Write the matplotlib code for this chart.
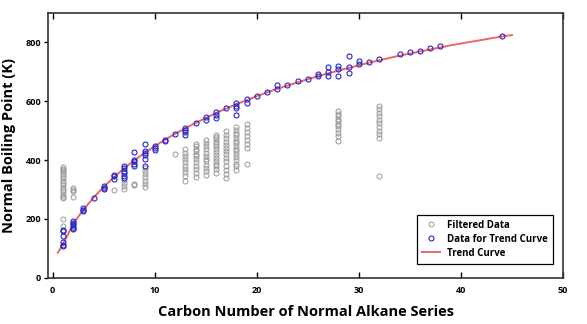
import matplotlib
matplotlib.use("Agg")
import matplotlib.pyplot as plt

plt.rcParams['font.family'] = ['Open Sans', 'DejaVu Sans']

# trend curve
curve_x = [0.5, 1, 2, 3, 4, 5, 6, 7, 8, 9, 10, 11, 12, 13, 14, 15, 16, 17, 18, 19, 20,
           21, 22, 23, 24, 25, 26, 27, 28, 29, 30, 31, 32, 33, 34, 35, 36, 37, 38, 39,
           40, 41, 42, 43, 44, 45]
curve_y = [85, 113, 183, 231, 272, 309, 342, 372, 399, 424, 447, 469, 489, 508, 526,
           543, 560, 575, 590, 603, 617, 630, 642, 653, 664, 675, 685, 695, 704, 713,
           722, 731, 739, 747, 755, 762, 769, 776, 783, 790, 796, 802, 808, 814, 820, 825]

# data used for the trend curve (carbon number, boiling point)
trend_c = ([1] * 6 + [2] * 6 + [3] * 3 + [4] + [5] * 3 + [6] * 3 + [7] * 6 + [8] * 5
           + [9] * 6 + [10] * 3 + [11] * 2 + [12] + [13] * 4 + [14] + [15] * 2 + [16] * 3
           + [17] + [18] * 4 + [19] * 2 + [20] + [21] + [22] * 2 + [23] + [24] + [25]
           + [26] * 2 + [27] * 3 + [28] * 3 + [29] * 3 + [30] * 2 + [31] + [32]
           + [34, 35, 36, 37, 38, 44])
trend_t = ([163, 158, 142, 120, 112, 108] + [192, 186, 181, 176, 170, 164]
           + [236, 231, 226] + [272] + [310, 305, 300] + [350, 344, 336]
           + [380, 372, 364, 355, 347, 340] + [426, 401, 395, 387, 378]
           + [455, 430, 424, 418, 405, 380] + [449, 441, 433] + [469, 466] + [490]
           + [509, 501, 494, 486] + [526] + [546, 537] + [562, 554, 543] + [577]
           + [594, 585, 577, 554] + [608, 594] + [619] + [632] + [654, 642] + [654]
           + [668] + [677] + [693, 685] + [717, 698, 685] + [721, 708, 687]
           + [755, 717, 696] + [736, 725] + [733] + [742]
           + [759, 766, 772, 780, 787, 823])

# filtered data
filt_c = ([1] * 18 + [2] * 4 + [6] + [7] * 4 + [8] * 2 + [9] * 7 + [12] + [13] * 10
          + [14] * 12 + [15] * 12 + [16] * 15 + [17] * 14 + [18] * 16 + [19] * 8
          + [28] * 11 + [32] * 11)
filt_t = ([375, 370, 365, 360, 352, 345, 338, 330, 322, 315, 305, 298, 290, 280, 275,
           270, 199, 176]
          + [305, 298, 295, 273] + [299] + [333, 322, 310, 300] + [316, 318]
          + [372, 362, 352, 342, 330, 318, 308] + [420]
          + [437, 425, 415, 404, 392, 380, 370, 358, 345, 330]
          + [455, 446, 438, 430, 421, 412, 402, 392, 380, 368, 356, 342]
          + [469, 458, 447, 436, 425, 414, 405, 395, 384, 372, 361, 350]
          + [486, 478, 470, 462, 454, 446, 438, 428, 418, 408, 398, 388, 378, 368, 356]
          + [497, 485, 474, 462, 450, 440, 430, 420, 408, 395, 380, 365, 352, 339]
          + [512, 502, 493, 484, 475, 466, 457, 448, 439, 430, 420, 410, 400, 388, 378, 367]
          + [524, 510, 496, 482, 468, 455, 441, 386]
          + [566, 557, 548, 540, 532, 524, 515, 505, 493, 480, 463]
          + [583, 572, 560, 548, 537, 525, 513, 500, 488, 475, 344])

fig = plt.figure(figsize=(5.87, 3.24), dpi=100)
ax = fig.add_axes([0.082, 0.143, 0.877, 0.817])

ax.plot(filt_c, filt_t, 'o', ms=3.6, mfc='none', mec='#999999', mew=0.7,
        label='Filtered Data', zorder=2)
ax.plot(curve_x, curve_y, '-', color='#f06464', lw=1.4, label='Trend Curve', zorder=3)
ax.plot(trend_c, trend_t, 'o', ms=3.6, mfc='none', mec='#2626c8', mew=0.8,
        label='Data for Trend Curve', zorder=4)

ax.set_xlim(-0.45, 50)
ax.set_ylim(0, 900)
ax.set_xticks([0, 10, 20, 30, 40, 50])
ax.set_yticks([0, 200, 400, 600, 800])

ax.tick_params(axis='x', direction='in', top=True, length=4, width=1, labelsize=6.5, pad=6)
ax.tick_params(axis='y', direction='out', length=3, width=1, labelsize=6.5, pad=2)
for lab in ax.get_xticklabels() + ax.get_yticklabels():
    lab.set_fontweight('bold')
for s in ax.spines.values():
    s.set_color('#333333')
    s.set_linewidth(1.2)

ax.set_xlabel('Carbon Number of Normal Alkane Series', fontsize=10.5, fontweight='bold', labelpad=7)
ax.set_ylabel('Normal Boiling Point (K)', fontsize=10.5, fontweight='bold', labelpad=7)

h, l = ax.get_legend_handles_labels()
order = [0, 2, 1]
leg = ax.legend([h[i] for i in order], [l[i] for i in order], loc='lower right',
                bbox_to_anchor=(0.99, 0.035), prop={'size': 7, 'weight': 'bold'},
                fancybox=False, edgecolor='black', framealpha=1, handlelength=1.8,
                borderpad=0.5, labelspacing=0.3)
leg.get_frame().set_linewidth(0.9)

fig.savefig('out.png', dpi=100)
